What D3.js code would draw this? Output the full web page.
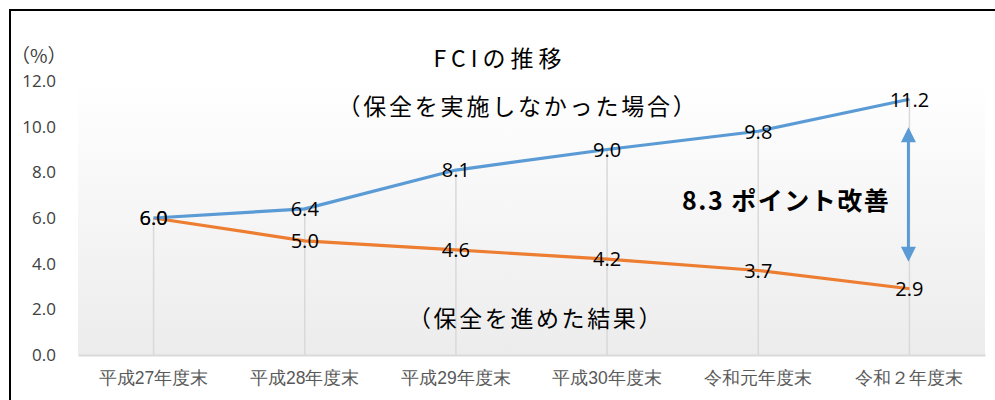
<!DOCTYPE html>
<html>
<head>
<meta charset="utf-8">
<script src="https://cdn.jsdelivr.net/npm/d3@7"></script>
<style>
  body { margin: 0; background: #fff; }
  svg { display: block; font-family: "Noto Sans CJK JP", "Noto Sans", sans-serif; }
</style>
</head>
<body>
<svg id="chart" width="995" height="400"></svg>
<script>
const categories = ['平成27年度末', '平成28年度末', '平成29年度末', '平成30年度末', '令和元年度末', '令和２年度末'];
const withoutMaintenance = [6.0, 6.4, 8.1, 9.0, 9.8, 11.2];
const withMaintenance = [6.0, 5.0, 4.6, 4.2, 3.7, 2.9];
const yTicks = [0, 2, 4, 6, 8, 10, 12];

const BLUE = '#5b9bd5';
const ORANGE = '#ed7d31';

const svg = d3.select('#chart');

const MARGINS = { top: 81, right: 10, bottom: 45, left: 78 };
const width = 995, height = 400;

// frame
svg.append('rect')
  .attr('x', 10).attr('y', 10)
  .attr('width', 1000).attr('height', 500)
  .attr('fill', 'none').attr('stroke', '#000').attr('stroke-width', 2);

const x = d3.scaleBand()
  .domain(categories)
  .range([MARGINS.left, width - MARGINS.right]);

const y = d3.scaleLinear()
  .domain([0, 12])
  .range([height - MARGINS.bottom, MARGINS.top]);

// plot background gradient
const defs = svg.append('defs');
const grad = defs.append('linearGradient')
  .attr('id', 'bg').attr('x1', 0).attr('y1', 0).attr('x2', 0).attr('y2', 1);
grad.append('stop').attr('offset', '0%').attr('stop-color', '#ffffff');
grad.append('stop').attr('offset', '100%').attr('stop-color', '#ececec');

svg.append('rect')
  .attr('x', x.range()[0]).attr('y', y(12))
  .attr('width', x.range()[1] - x.range()[0])
  .attr('height', y(0) - y(12))
  .attr('fill', 'url(#bg)');

const cx = d => x(d) + x.bandwidth() / 2;

// drop lines
svg.append('g')
  .selectAll('line')
  .data(categories)
  .join('line')
  .attr('x1', cx).attr('x2', cx)
  .attr('y1', (d, i) => y(Math.max(withoutMaintenance[i], withMaintenance[i])))
  .attr('y2', y(0))
  .attr('stroke', '#d9d9d9').attr('stroke-width', 1.5);

// x axis
const xAxis = svg.append('g')
  .attr('transform', `translate(0,${y(0)})`)
  .call(d3.axisBottom(x).tickSize(0).tickPadding(17));
xAxis.select('.domain').attr('stroke', '#d9d9d9').attr('stroke-width', 2);
xAxis.selectAll('text')
  .attr('fill', '#595959')
  .style('font-size', '17.5px');

// y axis
const yAxis = svg.append('g')
  .attr('transform', `translate(56,0)`)
  .call(d3.axisLeft(y).tickValues(yTicks).tickSize(0).tickPadding(0).tickFormat(d3.format('.1f')));
yAxis.select('.domain').remove();
yAxis.selectAll('text')
  .attr('fill', '#404040')
  .style('font-family', '"Open Sans", "Noto Sans", sans-serif')
  .style('font-size', '17px');

svg.append('text')
  .attr('x', 11).attr('y', 63)
  .attr('fill', '#404040')
  .style('font-size', '19px')
  .text('（%）');

// lines
const line = d3.line()
  .x((d, i) => cx(categories[i]))
  .y(d => y(d));

[[withMaintenance, ORANGE], [withoutMaintenance, BLUE]].forEach(([vals, color]) => {
  svg.append('path')
    .datum(vals)
    .attr('fill', 'none')
    .attr('stroke', color)
    .attr('stroke-width', 3.2)
    .attr('stroke-linejoin', 'round')
    .attr('d', line);
});

// data labels
[withoutMaintenance, withMaintenance].forEach(vals => {
  svg.append('g')
    .selectAll('text')
    .data(vals)
    .join('text')
    .attr('x', (d, i) => cx(categories[i]))
    .attr('y', d => y(d) + 2)
    .attr('text-anchor', 'middle')
    .attr('dominant-baseline', 'middle')
    .attr('fill', '#000')
    .style('font-family', '"Open Sans", "Noto Sans", sans-serif')
    .style('font-size', '20px')
    .text(d => d3.format('.1f')(d));
});

// titles
svg.append('text')
  .attr('x', 500).attr('y', 67)
  .attr('text-anchor', 'middle')
  .style('font-size', '23px')
  .style('letter-spacing', '5px')
  .text('FCIの推移');

svg.append('text')
  .attr('x', 518).attr('y', 115)
  .attr('text-anchor', 'middle')
  .style('font-size', '23px')
  .style('letter-spacing', '2.8px')
  .text('（保全を実施しなかった場合）');

svg.append('text')
  .attr('x', 536).attr('y', 327)
  .attr('text-anchor', 'middle')
  .style('font-size', '23px')
  .style('letter-spacing', '2.6px')
  .text('（保全を進めた結果）');

svg.append('text')
  .attr('x', 682).attr('y', 210)
  .style('font-size', '25px')
  .style('font-weight', 'bold')
  .style('letter-spacing', '1.5px')
  .text('8.3 ポイント改善');

// double arrow
const last = categories[categories.length - 1];
const ax = cx(last) - 1;
const arrowTop = y(withoutMaintenance[withoutMaintenance.length - 1]) + 28;
const arrowBot = y(withMaintenance[withMaintenance.length - 1]) - 27;
const head = 15;
svg.append('line')
  .attr('x1', ax).attr('x2', ax)
  .attr('y1', arrowTop + head - 2).attr('y2', arrowBot - head + 2)
  .attr('stroke', BLUE).attr('stroke-width', 3);
svg.append('path')
  .attr('d', `M${ax},${arrowTop}L${ax - 7.5},${arrowTop + head}L${ax + 7.5},${arrowTop + head}Z`)
  .attr('fill', BLUE);
svg.append('path')
  .attr('d', `M${ax},${arrowBot}L${ax - 7.5},${arrowBot - head}L${ax + 7.5},${arrowBot - head}Z`)
  .attr('fill', BLUE);
</script>
</body>
</html>
